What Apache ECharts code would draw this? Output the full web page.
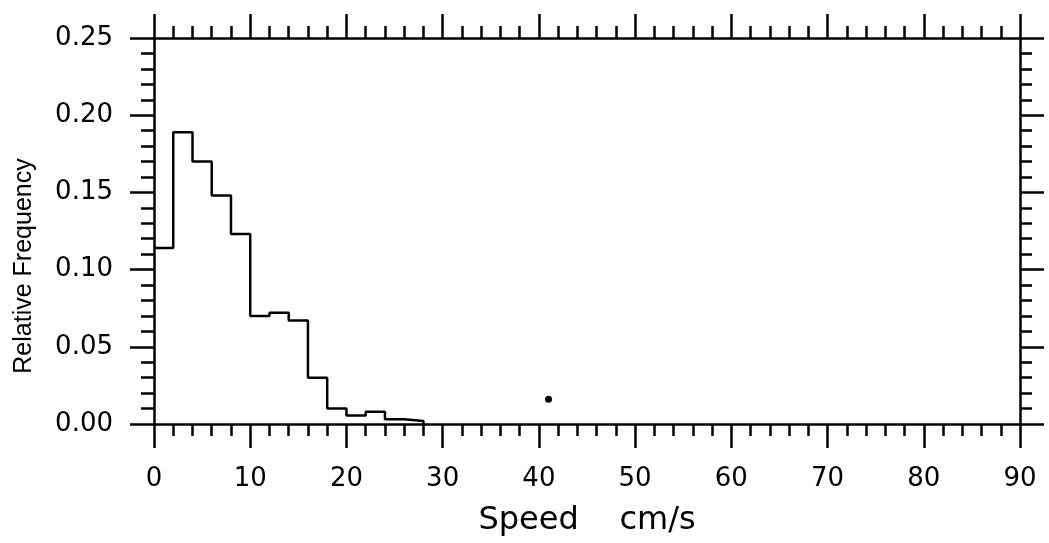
<!DOCTYPE html>
<html>
<head>
<meta charset="utf-8">
<script src="https://cdn.jsdelivr.net/npm/echarts@6/dist/echarts.min.js"></script>
<style>
  html, body { margin: 0; padding: 0; background: #fff; }
  #chart { width: 1049px; height: 543px; }
</style>
</head>
<body>
<div id="chart"></div>
<script>
// histogram bins, 2 cm/s wide, left edges
const binStart = [0, 2, 4, 6, 8, 10, 12, 14, 16, 18, 20, 22, 24, 26]
const relFreq = [0.114, 0.189, 0.170, 0.148, 0.123, 0.070, 0.072, 0.067, 0.030, 0.010, 0.0055, 0.008, 0.003, 0.002]
const lastEdge = 28
// stray dot on the scan
const specks = [[41, 0.016]]

const xTicks = [0, 10, 20, 30, 40, 50, 60, 70, 80, 90]
const yTicks = [0.00, 0.05, 0.10, 0.15, 0.20, 0.25]

const steps = binStart.map((x, i) => [x, relFreq[i]])
steps.push([lastEdge, 0])

const font = 'DejaVu Sans'
const ink = '#000'

// shared look for the four frame sides
const side = (extra) => Object.assign({
  axisLine: { show: true, onZero: false, lineStyle: { color: ink, width: 2.5 } },
  axisTick: { show: true, inside: false, length: 24, lineStyle: { color: ink, width: 2.5 } },
  splitLine: { show: false },
  minorSplitLine: { show: false },
}, extra)

const minor = (len) => ({ show: true, splitNumber: 5, length: len, lineStyle: { color: ink, width: 2.5 } })

const chart = echarts.init(document.getElementById('chart'), null, { renderer: 'canvas' })

chart.setOption({
  backgroundColor: '#fff',
  animation: false,
  grid: { left: 154, right: 29, top: 38, bottom: 119 },
  xAxis: [
    side({
      type: 'value', position: 'bottom',
      min: xTicks[0], max: xTicks[xTicks.length - 1], interval: 10,
      minorTick: minor(12),
      axisLabel: { margin: 42, color: ink, fontFamily: font, fontSize: 26 },
      name: 'Speed    cm/s', nameLocation: 'middle', nameGap: 81,
      nameTextStyle: { color: ink, fontFamily: font, fontSize: 32 },
    }),
    side({
      type: 'value', position: 'top',
      min: xTicks[0], max: xTicks[xTicks.length - 1], interval: 10,
      minorTick: minor(12),
      axisLabel: { show: false },
    }),
  ],
  yAxis: [
    side({
      type: 'value', position: 'left',
      min: yTicks[0], max: yTicks[yTicks.length - 1], interval: 0.05,
      minorTick: minor(13),
      axisLabel: {
        margin: 41, color: ink, fontFamily: font, fontSize: 26,
        formatter: (v) => v.toFixed(2),
      },
    }),
    side({
      type: 'value', position: 'right',
      min: yTicks[0], max: yTicks[yTicks.length - 1], interval: 0.05,
      minorTick: minor(12),
      axisLabel: { show: false },
    }),
  ],
  graphic: [
    {
      type: 'text', x: 24, y: 266, rotation: Math.PI / 2,
      style: {
        text: 'Relative Frequency', x: 0, y: 0,
        align: 'center', verticalAlign: 'middle',
        fill: ink, font: '25px "Liberation Sans"',
      },
    },
  ],
  series: [
    {
      type: 'line', step: 'end', data: steps,
      xAxisIndex: 0, yAxisIndex: 0,
      symbol: 'none', lineStyle: { color: ink, width: 2.5 },
    },
    {
      type: 'scatter', data: specks,
      xAxisIndex: 0, yAxisIndex: 0,
      symbolSize: 7, itemStyle: { color: ink, opacity: 1 },
    },
  ],
})
</script>
</body>
</html>
